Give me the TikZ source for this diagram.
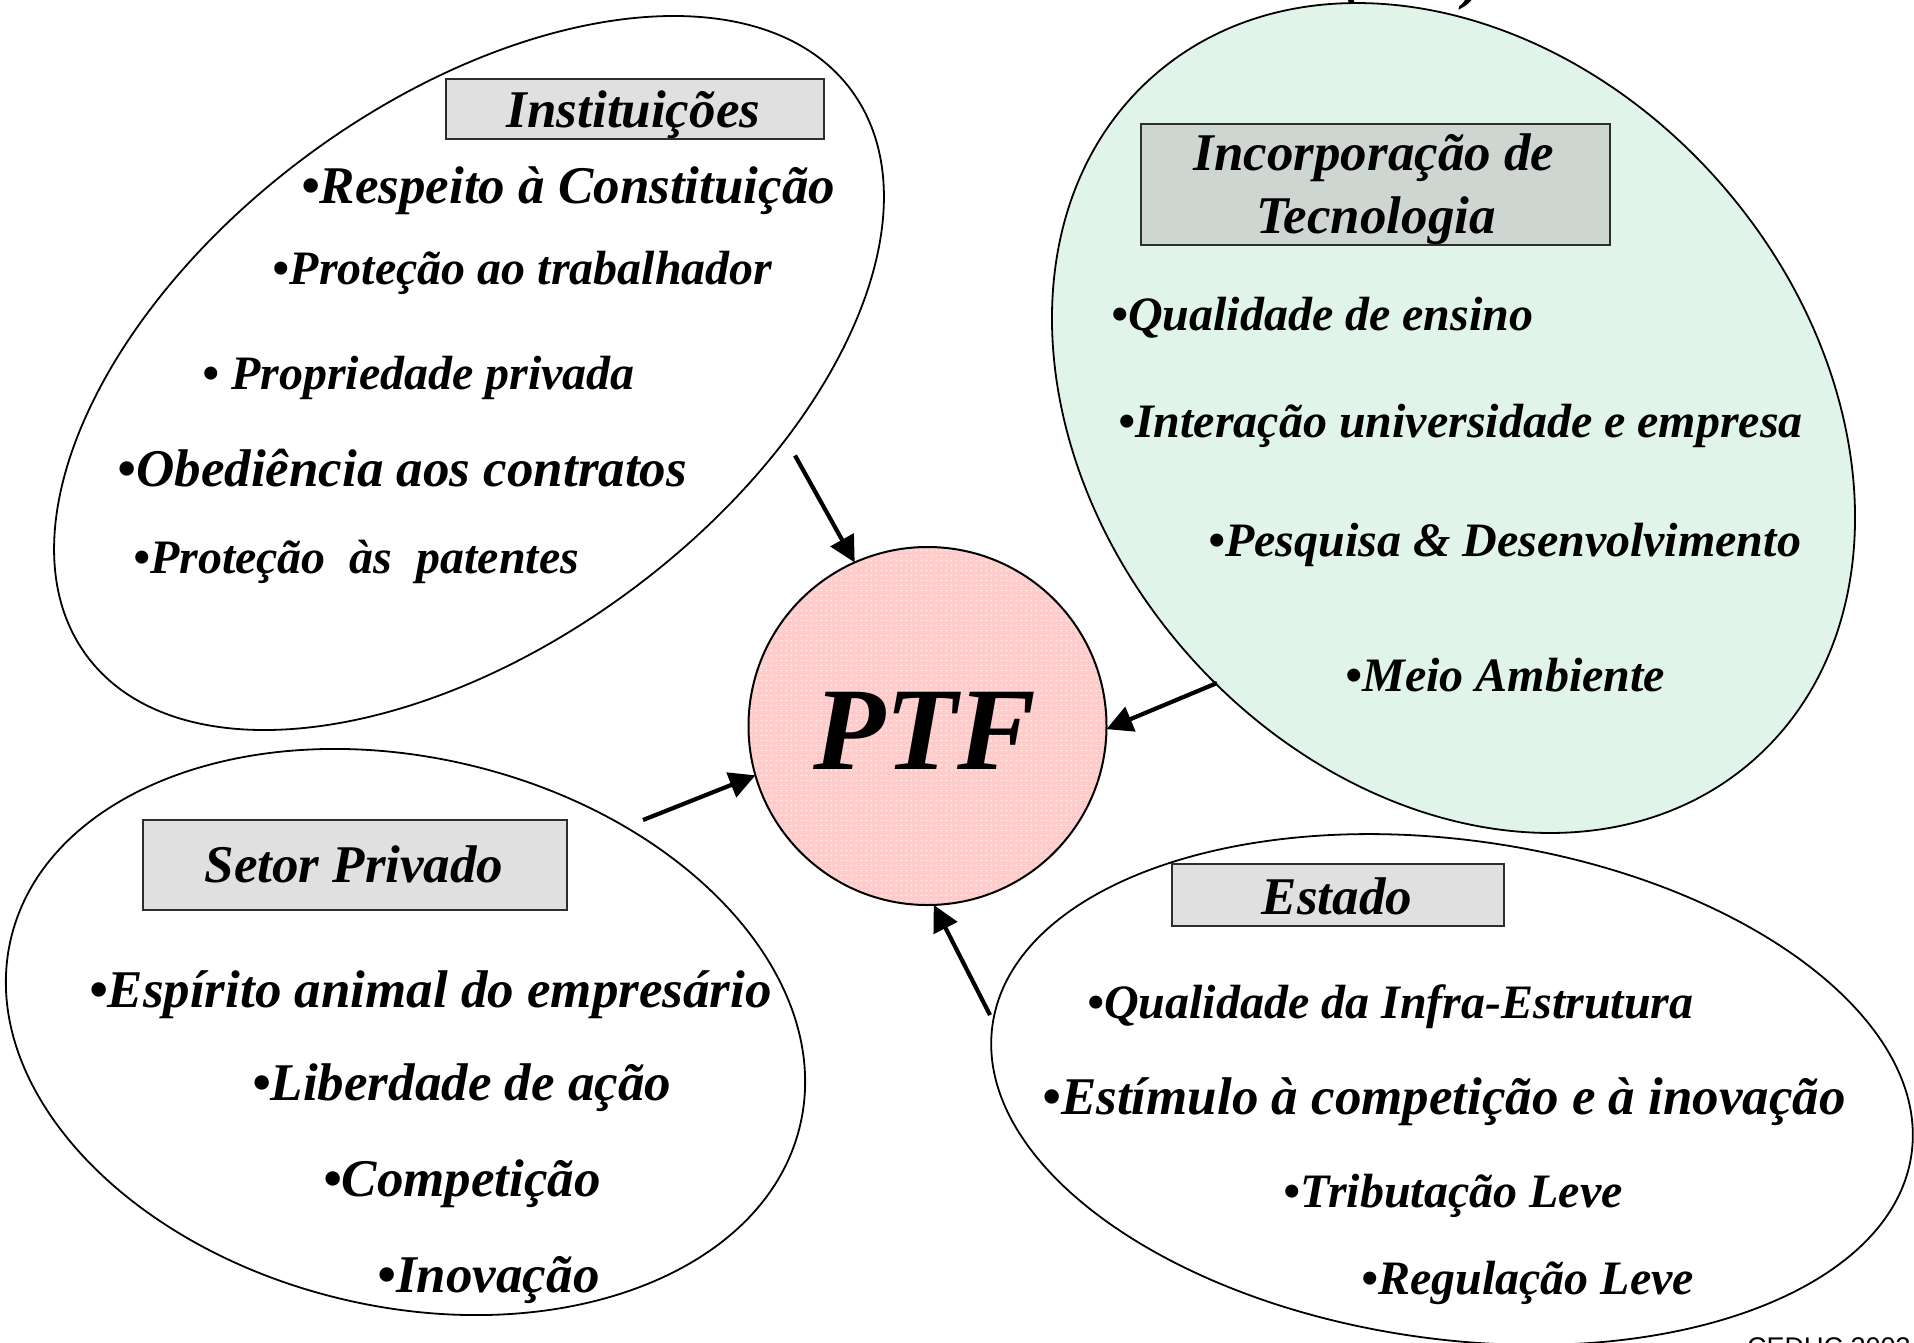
\documentclass[tikz,border=0pt]{standalone}
\usepackage{fontspec}
\setmainfont{Liberation Serif}
\newfontfamily\cedufont{Liberation Sans}
\usetikzlibrary{shapes.geometric, arrows.meta, patterns.meta}

\definecolor{pinkfill}{RGB}{255,204,204}
\definecolor{greenfill}{RGB}{224,244,233}
\definecolor{boxgray}{RGB}{224,224,224}
\definecolor{boxgreen}{RGB}{205,214,209}
\definecolor{boxline}{RGB}{45,45,45}

\tikzdeclarepattern{
  name=ptfdots,
  type=uncolored,
  bounding box={(0pt,0pt) and (4.8pt,5.3pt)},
  tile size={(4.8pt,5.3pt)},
  code={\pgfpathellipse{\pgfpoint{2.4pt}{2.65pt}}{\pgfpoint{1pt}{0pt}}{\pgfpoint{0pt}{0.55pt}}\pgfusepath{fill}}
}

\tikzset{
  bubble/.style={ellipse, draw=black, line width=1.8pt, inner sep=0pt, outer sep=0pt},
  hdr/.style={rectangle, draw=boxline, line width=2pt, fill=boxgray, inner sep=0pt, outer sep=0pt},
  bigtxt/.style={anchor=base west, inner sep=0pt, font=\bfseries\itshape\fontsize{53}{60}\selectfont},
  smalltxt/.style={anchor=base west, inner sep=0pt, font=\bfseries\itshape\fontsize{48}{56}\selectfont},
  hdrtxt/.style={anchor=base, inner sep=0pt, font=\bfseries\itshape\fontsize{53}{60}\selectfont},
  arr/.style={-{Triangle[length=26pt,width=26pt]}, line width=4.2pt},
}

\begin{document}
\begin{tikzpicture}[x=1pt, y=-1pt]
\useasboundingbox (0,0) rectangle (1914,1342);
\fill[white] (0,0) rectangle (1914,1342);

% partially visible title at the top
\node[anchor=base west, inner sep=0pt, font=\bfseries\itshape\fontsize{60}{70}\selectfont] (ttl) at (1343,-3) {(\hspace*{100pt})};

% bubbles
\node[bubble, minimum width=951pt, minimum height=542pt, rotate=36.5] (inst) at (469,373) {};
\node[bubble, fill=greenfill, minimum width=910pt, minimum height=711pt, rotate=-48.9] (tec) at (1453.5,418) {};
\node[bubble, minimum width=811pt, minimum height=549pt, rotate=-13.35] (priv) at (405.5,1032) {};
\node[bubble, minimum width=928pt, minimum height=499pt, rotate=-8] (est) at (1452,1089.5) {};

% Instituicoes
\node[hdr, minimum width=378pt, minimum height=60pt] (hb1) at (635,109) {};
\node[hdrtxt] (h1) at (633.5,127.4) {Instituições};
\node[bigtxt] (i1) at (301,203) {•Respeito à Constituição};
\node[smalltxt] (i2) at (272.7,284.6) {•Proteção ao trabalhador};
\node[smalltxt] (i3) at (202,389) {• Propriedade privada};
\node[bigtxt] (i4) at (117.7,486) {•Obediência aos contratos};
\node[smalltxt] (i5) at (133,573) {•Proteção\ \ às\ \ patentes};

% Setor Privado
\node[hdr, minimum width=424pt, minimum height=90pt] (hb3) at (355,865) {};
\node[hdrtxt] (h3) at (354,882) {Setor Privado};
\node[bigtxt] (p1) at (89,1007) {•Espírito animal do empresário};
\node[bigtxt] (p2) at (252,1100.8) {•Liberdade de ação};
\node[bigtxt] (p3) at (323,1196.4) {•Competição};
\node[bigtxt] (p4) at (377.6,1292) {•Inovação};

% Incorporacao de Tecnologia
\node[hdr, fill=boxgreen, minimum width=469pt, minimum height=121pt] (hb2) at (1375.5,184.5) {};
\node[hdrtxt] (h2a) at (1374,170) {Incorporação de};
\node[hdrtxt] (h2b) at (1376,233) {Tecnologia};
\node[smalltxt] (t1) at (1111,330) {•Qualidade de ensino};
\node[smalltxt] (t2) at (1118,437.6) {•Interação universidade e empresa};
\node[smalltxt] (t3) at (1208,556) {•Pesquisa \& Desenvolvimento};
\node[smalltxt] (t4) at (1345.5,691) {•Meio Ambiente};

% Estado
\node[hdr, minimum width=332pt, minimum height=62pt] (hb4) at (1338,895) {};
\node[hdrtxt] (h4) at (1337,914) {Estado};
\node[smalltxt] (e1) at (1087,1018) {•Qualidade da Infra-Estrutura};
\node[bigtxt] (e2) at (1042.5,1114.6) {•Estímulo à competição e à inovação};
\node[smalltxt] (e3) at (1283.7,1207.8) {•Tributação Leve};
\node[smalltxt] (e4) at (1361,1294.4) {•Regulação Leve};

% PTF
\node[circle, draw=black, line width=2pt, preaction={fill=pinkfill}, pattern=ptfdots, pattern color=white,
      minimum size=358pt, inner sep=0pt, outer sep=0pt] (ptf) at (927.5,726) {};
\node[anchor=base, inner sep=0pt, font=\bfseries\itshape\fontsize{118}{130}\selectfont] (ptftxt) at (925,769) {PTF};

% arrows
\coordinate (a1) at (795,455.5);
\coordinate (a2) at (1217,683);
\coordinate (a3) at (643,820);
\coordinate (a4) at (990,1015);
\draw[arr] (a1) -- (ptf.114);
\draw[arr] (a2) -- (ptf.-1);
\draw[arr] (a3) -- (ptf.196);
\draw[arr] (a4) -- (ptf.-88);

% footer
\node[anchor=north west, inner sep=0pt, font=\cedufont\fontsize{27}{30}\selectfont] (ced) at (1747,1337) {CEDUC 2003};
\end{tikzpicture}
\end{document}
